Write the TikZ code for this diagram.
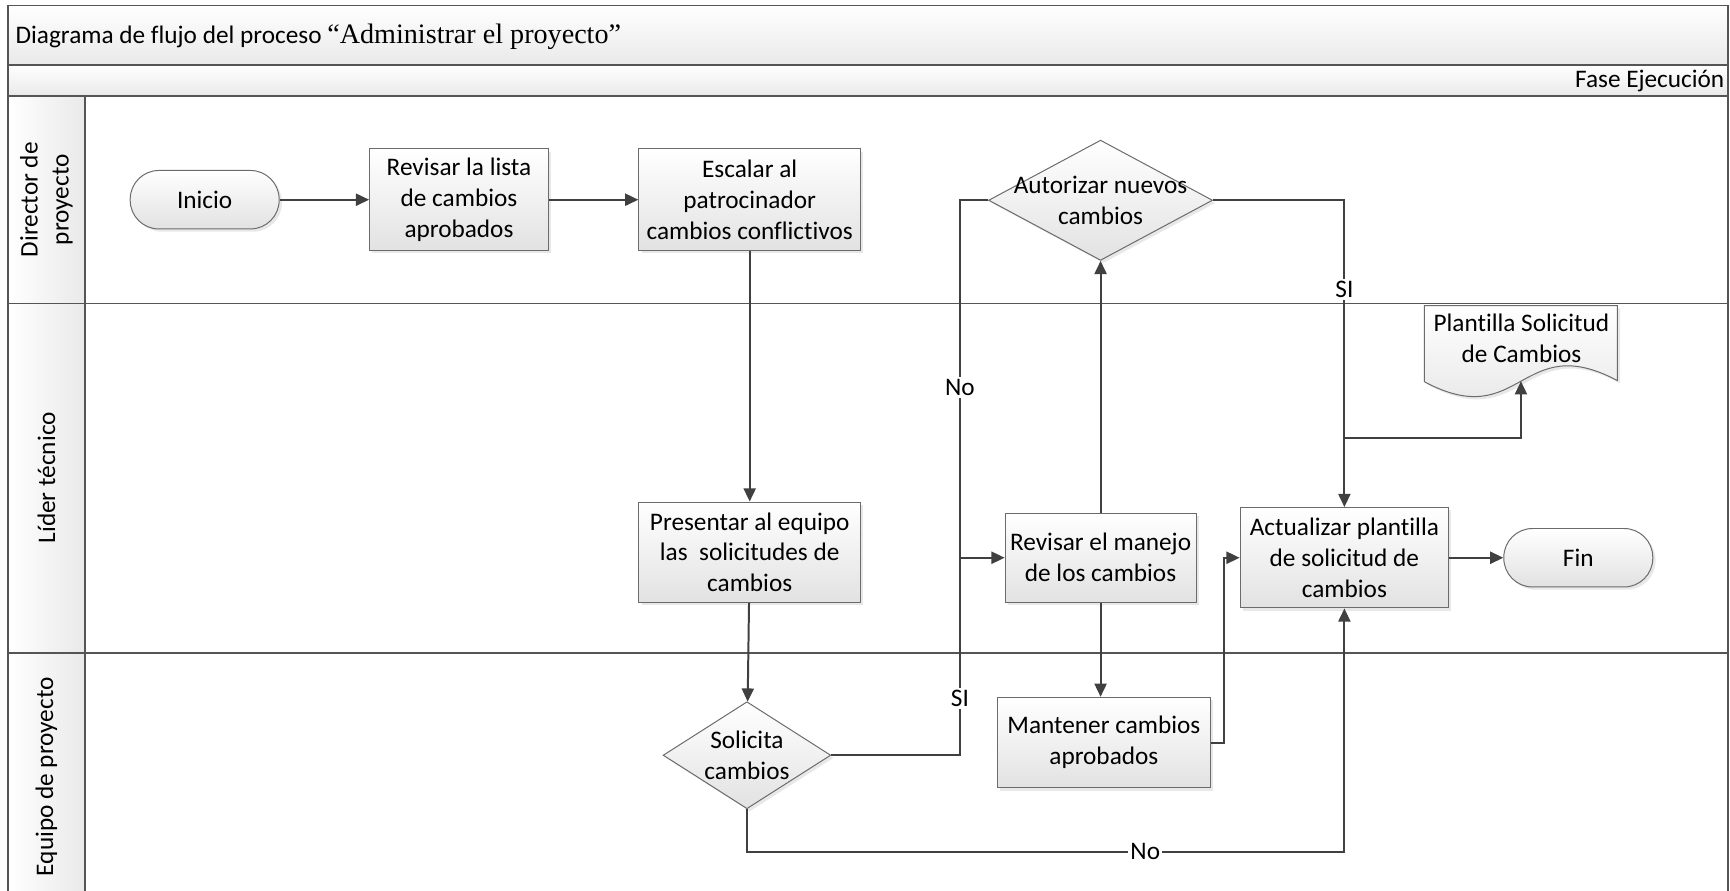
\documentclass[tikz,border=0pt]{standalone}
\usepackage{fontspec}
\setmainfont{Carlito}[Ligatures=NoCommon]
\newfontfamily\tnr{Liberation Serif}
\usetikzlibrary{shapes.geometric,arrows.meta,shadows,calc}

\definecolor{lanecol}{HTML}{555555}
\definecolor{conncol}{HTML}{404040}
\definecolor{boxline}{HTML}{6B6B6B}
\definecolor{boxbot}{HTML}{E2E2E2}
\definecolor{hdrbot}{HTML}{E9E9E9}

\tikzset{
  boxfill/.style={top color=white, bottom color=boxbot},
  boxshadow/.style={drop shadow={shadow xshift=2.5pt, shadow yshift=-2.5pt, opacity=0.18}},
  proc/.style={rectangle, draw=boxline, line width=0.9pt, boxfill, boxshadow, align=center, inner sep=0pt},
  term/.style={proc, rounded corners=26pt, minimum width=135pt, minimum height=53pt},
  dec/.style={diamond, draw=boxline, line width=0.9pt, boxfill, boxshadow, inner sep=0pt},
  txt/.style={align=center, inner sep=0pt},
  wire/.style={draw=conncol, line width=1.8pt},
  flow/.style={wire, -{Triangle[length=12pt,width=11pt]}},
  tag/.style={fill=white, inner sep=2pt},
  laneline/.style={draw=lanecol, line width=1.6pt},
}

\begin{document}
\begin{tikzpicture}[x=1pt, y=-1pt, font=\fontsize{22.9}{28}\selectfont]
\useasboundingbox (0,0) rectangle (1568,807);

% pool background: title bar, phase bar, lane header column
\fill[top color=white, bottom color=hdrbot] (7,5) rectangle (1566,59);
\fill[top color=white, bottom color=hdrbot] (7,59) rectangle (1566,87);
\fill[left color=white, right color=hdrbot] (7,87) rectangle (77,812);

% pool and lane borders
\draw[laneline] (7,812) -- (7,5) -- (1566,5) -- (1566,812);
\draw[laneline] (7,59) -- (1566,59);
\draw[laneline] (7,87) -- (1566,87);
\draw[laneline] (77,87) -- (77,812);
\draw[laneline] (7,275) -- (1566,275);
\draw[laneline] (7,592) -- (1566,592);

% headings
\node[anchor=west, inner sep=0pt] (title) at (14,33)
  {Diagrama de flujo del proceso {\tnr\fontsize{25.5}{28}\selectfont “Administrar el proyecto”}};
\node[anchor=east, inner sep=0pt] (phase) at (1563,73) {Fase Ejecución};

% lane names
\node[txt, rotate=90] (lane1) at (42,181) {Director de\\proyecto};
\node[txt, rotate=90] (lane2) at (42,433) {Líder técnico};
\node[txt, rotate=90] (lane3) at (42,704) {Equipo de proyecto};

% process steps
\node[term] (ini) at (185.5,181) {Inicio};
\node[proc, minimum width=162pt, minimum height=92pt] (rev) at (416,181) {Revisar la lista\\de cambios\\aprobados};
\node[proc, minimum width=201pt, minimum height=92pt] (esc) at (679.5,181) {Escalar al\\patrocinador\\cambios conflictivos};
\node[dec, minimum width=203pt, minimum height=109pt] (aut) at (997.5,181.5) {};
\node[txt] (autt) at (aut) {Autorizar nuevos\\cambios};
\node[proc, minimum width=201pt, minimum height=91pt] (pre) at (679.5,500.5) {Presentar al equipo\\las~ solicitudes de\\cambios};
\node[proc, minimum width=173pt, minimum height=81pt] (man) at (997.5,505.5) {Revisar el manejo\\de los cambios};
\node[proc, minimum width=189pt, minimum height=91pt] (act) at (1218.5,505.5) {Actualizar plantilla\\de solicitud de\\cambios};
\node[term] (fin) at (1430.5,505.5) {Fin};
\node[dec, minimum width=152pt, minimum height=97pt] (sol) at (677,684.5) {};
\node[txt] (solt) at (sol) {Solicita\\cambios};
\node[proc, minimum width=193pt, minimum height=82pt] (mant) at (1000.5,673) {Mantener cambios\\aprobados};

% document shape
\path[draw=boxline, line width=0.9pt, boxfill, boxshadow]
  (1291,277) -- (1466,277) -- (1466,345)
  .. controls (1378,298) and (1379,393) .. (1291,346) -- cycle;
\coordinate (plb) at (1378.5,345.5);
\node[txt] (pla) at (1379,307) {Plantilla Solicitud\\de Cambios};

% connectors
\draw[flow] (ini) -- (rev);
\draw[flow] (rev) -- (esc);
\draw[flow] (esc) -- (pre);
\draw[flow] (pre) -- (sol);

\coordinate (jn) at (870,505.5);
\draw[wire] (sol.east) -| (jn);
\draw[wire] (aut.west) -| (jn);
\draw[flow] (jn) -- (man.west);
\node[tag] (si1) at (870,633) {SI};
\node[tag] (no1) at (870,351) {No};

\draw[flow] (man) -- (aut);
\draw[flow] (man.south) -- (man.south |- mant.north);

\coordinate (mk) at ($(act.west)+(-14,0)$);
\draw[flow] (mant.east) -| (mk) -- (act.west);

\draw[flow] (aut.east) -| (act.north);
\node[tag] (si2) at (1218.5,262) {SI};
\coordinate (br) at (1218.5,397);
\draw[flow] (br) -| (plb);

\draw[flow] (act) -- (fin);

\coordinate (nob) at (677,772);
\draw[flow] (sol.south) -- (nob) -| (act.south);
\node[tag] (no2) at (1038,772) {No};
\end{tikzpicture}
\end{document}
